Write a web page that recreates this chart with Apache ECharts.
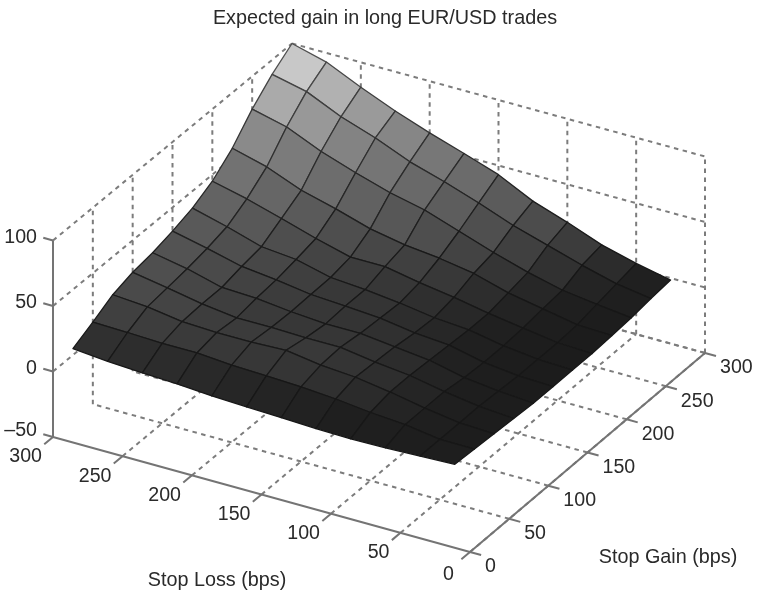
<!DOCTYPE html>
<html><head><meta charset="utf-8">
<style>html,body{margin:0;padding:0;background:#fff}#c{width:757px;height:595px}</style>
<script src="https://cdn.jsdelivr.net/npm/echarts@6/dist/echarts.min.js"></script>
</head><body><div id="c"></div>
<script>
const titleText = 'Expected gain in long EUR/USD trades';
const stopLossName = 'Stop Loss (bps)';
const stopGainName = 'Stop Gain (bps)';
const lossTicks = [300, 250, 200, 150, 100, 50, 0];
const gainTicks = [0, 50, 100, 150, 200, 250, 300];
const zTicks = [-50, 0, 50, 100];
const surfaceGain = [25, 50, 75, 100, 125, 150, 175, 200, 225, 250, 275, 300];
const surfaceLoss = [300, 275, 250, 225, 200, 175, 150, 125, 100, 75, 50, 25];
const zLoss300 = [5, 12.6, 21, 25.6, 28, 32, 37, 45, 57.6, 75, 89, 100];
const zLoss275 = [2.5, 12, 19, 21, 23, 26, 30, 38.7, 50.6, 68.5, 83, 93];
const zLoss250 = [1, 11, 15, 16, 16, 19.5, 22, 31, 40, 57, 71, 81];
const zLoss225 = [0, 11, 14, 12.6, 15, 16.5, 19.5, 23, 33, 48, 62, 70];
const zLoss200 = [-2, 9, 14, 12.6, 12, 12.6, 13, 16, 25, 40, 51, 60.5];
const zLoss175 = [-3, 8, 15, 12, 10, 11, 11, 16, 20, 34, 43, 52];
const zLoss150 = [-4, 7, 11, 12, 10, 9, 8, 11, 17, 25, 34, 43];
const zLoss125 = [-5, 5, 9, 8, 7, 5, 4, 7, 12.6, 16, 24, 30];
const zLoss100 = [-5.5, 2, 5, 5, 4, 3, 2, 2, 5, 8, 16, 21];
const zLoss75 = [-5, 0, 0, 0, -2, -3, -3, -2, 0, 1.6, 8, 11];
const zLoss50 = [-4, -4, -4, -4, -5, -6, -6, -6, -5, -2, 1, 4];
const zLoss25 = [-3, -4, -5, -6, -7, -7, -7, -7, -6, -5, -3, -1.5];
const zRows = [zLoss300, zLoss275, zLoss250, zLoss225, zLoss200, zLoss175, zLoss150, zLoss125, zLoss100, zLoss75, zLoss50, zLoss25];

const FONT = '"Liberation Sans", Arial, sans-serif';
const FS = 19.6;
const AX = '#747474', DASH = '#7c7c7c';

// oblique projection of (stop loss, stop gain, z) into the plane of the hidden x/y axes
function proj(l, s, z) {
  const u = l / 300, v = s / 300, h = z + 50;
  return [470 - 417 * u + 235 * v + 4 * u * v, 552 - 115 * u - 199 * v + 2 * u * v - 1.31 * h];
}
const lerpStops = [[-8, 27], [0, 32], [10, 52], [20, 72], [40, 102], [60, 132], [80, 172], [96, 212]];
function greyLevel(z) {
  let g = lerpStops[lerpStops.length - 1][1];
  if (z <= lerpStops[0][0]) g = lerpStops[0][1];
  else for (let i = 1; i < lerpStops.length; i++) {
    if (z <= lerpStops[i][0]) {
      const a = lerpStops[i - 1], b = lerpStops[i];
      g = a[1] + (b[1] - a[1]) * (z - a[0]) / (b[0] - a[0]);
      break;
    }
  }
  return Math.round(g);
}
const rgb = g => 'rgb(' + g + ',' + g + ',' + g + ')';
const edgeLevel = g => Math.round(g - Math.min(0.6 * g, 0.9 * Math.max(g - 22, 0)));

const segs = [];
lossTicks.forEach(l => {
  if (l !== 300) { segs.push([l, 0, -50, l, 300, -50]); segs.push([l, 300, -50, l, 300, 100]); }
});
gainTicks.forEach(s => {
  if (s !== 0) { segs.push([0, s, -50, 300, s, -50]); segs.push([300, s, -50, 300, s, 100]); }
});
zTicks.forEach(z => {
  if (z !== -50) segs.push([300, 0, z, 300, 300, z]);
  segs.push([300, 300, z, 0, 300, z]);
});
const axisSegs = [
  [300, 0, -50, 300, 0, 100],
  [300, 0, -50, 0, 0, -50],
  [0, 0, -50, 0, 300, -50]
];
lossTicks.forEach(l => axisSegs.push([l, 0, -50, l, -11, -50]));
gainTicks.forEach(s => axisSegs.push([0, s, -50, -8, s, -50]));
zTicks.forEach(z => axisSegs.push([300, 0, z, 307, 0, z]));

const facets = [];
for (let i = 0; i < surfaceLoss.length - 1; i++)
  for (let j = surfaceGain.length - 2; j >= 0; j--) facets.push([i, j]);

const labels = [];
lossTicks.forEach(l => labels.push([l, 0, -50, String(l), 'right', l === 0 ? -16 : -11, l === 0 ? 23 : 20]));
gainTicks.forEach(s => labels.push([0, s, -50, String(s), 'left', 15, 15]));
zTicks.forEach(z => labels.push([300, 0, z, z < 0 ? '\u2013' + (-z) : String(z), 'right', -16, z < 0 ? -6 : -3]));

const lineSeries = (data, style) => ({
  type: 'custom', coordinateSystem: 'cartesian2d', clip: false, silent: true, animation: false,
  data: data.map((d, i) => [i]), encode: { x: 0 },
  renderItem(p, api) {
    const d = data[p.dataIndex];
    const a = api.coord(proj(d[0], d[1], d[2])), b = api.coord(proj(d[3], d[4], d[5]));
    return { type: 'line', shape: { x1: a[0], y1: a[1], x2: b[0], y2: b[1] }, style };
  }
});

const chart = echarts.init(document.getElementById('c'), null, { renderer: 'canvas' });
chart.setOption({
  animation: false,
  backgroundColor: '#ffffff',
  title: { text: titleText, left: 380, textAlign: 'center', top: 4, textStyle: { fontFamily: FONT, fontSize: 19.8, fontWeight: 'normal', color: '#2a2a2a' } },
  grid: { left: 0, right: 0, top: 0, bottom: 0 },
  xAxis: { type: 'value', min: 0, max: 757, show: false },
  yAxis: { type: 'value', min: 0, max: 595, inverse: true, show: false },
  tooltip: { show: false },
  series: [
    lineSeries(segs, { stroke: DASH, lineWidth: 2, lineDash: [4.5, 4.5] }),
    {
      type: 'custom', coordinateSystem: 'cartesian2d', clip: false, silent: true, animation: false,
      data: facets, encode: { x: 0, y: 1 },
      renderItem(p, api) {
        const [i, j] = facets[p.dataIndex];
        const q = [[i, j], [i + 1, j], [i + 1, j + 1], [i, j + 1]];
        let sum = 0;
        const pts = q.map(([a, b]) => { sum += zRows[a][b]; return api.coord(proj(surfaceLoss[a], surfaceGain[b], zRows[a][b])); });
        const g = greyLevel(sum / 4);
        return { type: 'polygon', shape: { points: pts }, style: { fill: rgb(g), stroke: rgb(edgeLevel(g)), lineWidth: 1.3, lineJoin: 'round' } };
      }
    },
    lineSeries(axisSegs, { stroke: AX, lineWidth: 2 }),
    {
      type: 'custom', coordinateSystem: 'cartesian2d', clip: false, silent: true, animation: false,
      data: labels.map((d, i) => [i]), encode: { x: 0 },
      renderItem(p, api) {
        const d = labels[p.dataIndex];
        const a = api.coord(proj(d[0], d[1], d[2]));
        return { type: 'text', x: a[0] + d[5], y: a[1] + d[6], style: { text: d[3], align: d[4], verticalAlign: 'middle', fontFamily: FONT, fontSize: FS, fill: '#2a2a2a' } };
      }
    },
    {
      type: 'custom', coordinateSystem: 'cartesian2d', clip: false, silent: true, animation: false,
      data: [[217, 581], [668, 558]], encode: { x: 0, y: 1 },
      renderItem(p, api) {
        const a = api.coord([api.value(0), api.value(1)]);
        const text = p.dataIndex === 0 ? stopLossName : stopGainName;
        return { type: 'text', x: a[0], y: a[1], style: { text, align: 'center', verticalAlign: 'middle', fontFamily: FONT, fontSize: 19.8, fill: '#2a2a2a' } };
      }
    }
  ]
});
</script></body></html>
